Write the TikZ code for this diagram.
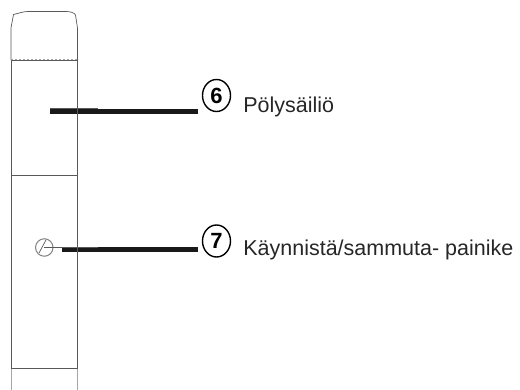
\documentclass[tikz,border=0pt]{standalone}
\usepackage{fontspec}
\setmainfont{Liberation Sans}
\usetikzlibrary{positioning,shapes.geometric}
\definecolor{bodygray}{gray}{0.35}

\begin{document}
\begin{tikzpicture}[x=1pt,y=-1pt,semithick]
\tikzstyle{outline} = [draw=bodygray,line width=0.7pt]
\tikzstyle{leader} = [draw=black!90,line width=5pt]
\tikzstyle{num} = [ellipse,draw=black,line width=1.4pt,inner sep=0pt,minimum width=28pt,minimum height=32pt,font=\bfseries\fontsize{22}{22}\selectfont]
\tikzstyle{lbl} = [anchor=base west,inner sep=0pt,text=black!85,font=\fontsize{21.5}{24}\selectfont]
    \useasboundingbox (0,0) rectangle (520,390);
    % numbered labels
    \node[num] (n6) at (216.5,95.5) {6};
    \node[num] (n7) at (216.5,241) {7};
    \node[lbl] (t6) at (243,113) {Pölysäiliö};
    \node[lbl] (t7) at (243,256) {Käynnistä/sammuta- painike};
    \coordinate (l6) at (50,112);
    \coordinate (l7) at (62,250);
    \coordinate (e6) at (198,112);
    \coordinate (e7) at (198,250);
    \coordinate (s6) at (98,108.8);
    \coordinate (s7) at (98,247);
    \draw[leader] (l6) -- (e6);
    \draw[leader] (l7) -- (e7);
    \draw[outline] (l6 |- s6) -- (s6);
    \draw[outline] (l7 |- s7) -- (s7);
    % device body
    \draw[outline] (11,60) -- (11,28) -- (13.5,14.5) .. controls (18,13.5) and (23,11.5) .. (28,11.5) -- (66,11.5) .. controls (70,11.5) and (74,12.5) .. (75.5,15) -- (77.5,28) -- (77.5,60);
    \draw[draw=gray!70,line width=2pt,dotted] (11,60) -- (77.5,60);
    \draw[outline] (11,60) -- (77.5,60);
    \draw[outline] (11.5,60) -- (11.5,369) (77.5,60) -- (77.5,369);
    \draw[outline] (11,175) -- (77.5,175);
    \draw[outline,line width=1pt] (11.5,369) -- (77.5,369);
    \draw[draw=gray!70,line width=0.7pt] (11.5,369) -- (11.5,390) (77.5,369) -- (77.5,390);
    % switch
    \node[circle,draw=gray,line width=1pt,inner sep=0pt,minimum size=17.5pt] (knob) at (44.3,247.5) {};
    \coordinate (k1) at (39,253);
    \coordinate (k2) at (46,240);
    \draw[outline] (knob.center) -- (l7 |- knob.center);
    \draw[outline] (k1) -- (k2);
\end{tikzpicture}
\end{document}
